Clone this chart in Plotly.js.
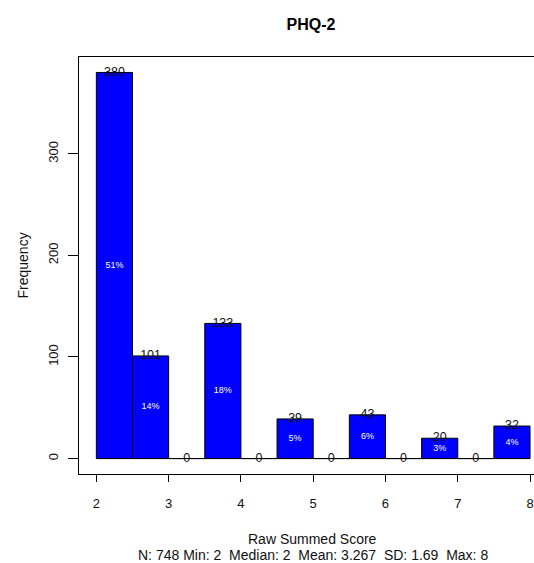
<!DOCTYPE html>
<html>
<head>
<meta charset="utf-8">
<script src="https://cdn.plot.ly/plotly-3.0.1.min.js"></script>
<style>html,body{margin:0;padding:0;background:#fff;}#chart{width:534px;height:563px;}</style>
</head>
<body>
<div id="chart"></div>
<script>
// Histogram bins (breaks) and counts
var breaks = [2, 2.5, 3, 3.5, 4, 4.5, 5, 5.5, 6, 6.5, 7, 7.5, 8];
var counts = [380, 101, 0, 133, 0, 39, 0, 43, 0, 20, 0, 32];
var percentLabels = ['51%', '14%', '', '18%', '', '5%', '', '6%', '', '3%', '', '4%'];
var xTicks = [2, 3, 4, 5, 6, 7, 8];
var yTicks = [0, 100, 200, 300];
var titleText = 'PHQ-2';
var xTitle = 'Raw Summed Score';
var subTitle = 'N: 748 Min: 2 \u00A0Median: 2 \u00A0Mean: 3.267 \u00A0SD: 1.69 \u00A0Max: 8';
var yTitle = 'Frequency';

var FONT = 'Liberation Sans, Arial, sans-serif';
var mids = [], widths = [], halfCounts = [];
for (var i = 0; i < counts.length; i++) {
  mids.push((breaks[i] + breaks[i + 1]) / 2);
  widths.push(breaks[i + 1] - breaks[i]);
  halfCounts.push(counts[i] / 2);
}

var traces = [
  {
    type: 'scatter', mode: 'lines',
    x: [breaks[0], breaks[breaks.length - 1]], y: [0, 0],
    line: {color: '#000', width: 1}, hoverinfo: 'skip', showlegend: false
  },
  {
    type: 'bar', x: mids, y: counts, width: widths,
    marker: {color: '#0000FF', line: {color: '#000', width: 1}},
    showlegend: false
  },
  {
    type: 'scatter', mode: 'text', x: mids, y: counts,
    text: counts.map(String), textposition: 'middle center',
    textfont: {family: FONT, size: 12.5, color: '#111'},
    showlegend: false, hoverinfo: 'skip', cliponaxis: false
  },
  {
    type: 'scatter', mode: 'text', x: mids, y: halfCounts,
    text: percentLabels, textposition: 'middle center',
    textfont: {family: FONT, size: 9, color: '#fff'},
    showlegend: false, hoverinfo: 'skip'
  }
];

var layout = {
  width: 534, height: 563,
  margin: {l: 79, r: 0, t: 57, b: 89, pad: 0},
  paper_bgcolor: '#fff', plot_bgcolor: '#fff',
  font: {family: FONT, size: 13, color: '#111'},
  bargap: 0,
  title: {
    text: '<b>' + titleText + '</b>',
    font: {family: FONT, size: 16, color: '#000'},
    xref: 'paper', x: 0.51, xanchor: 'center',
    yref: 'container', y: 1 - 24 / 563, yanchor: 'middle'
  },
  xaxis: {
    range: [1.76, 8.055], tickvals: xTicks, ticktext: xTicks.map(String),
    ticks: 'outside', ticklen: 7, tickcolor: '#000', tickwidth: 1,
    showline: true, mirror: true, linecolor: '#000', linewidth: 1,
    showgrid: false, zeroline: false, fixedrange: true,
    ticklabelstandoff: 10,
    tickfont: {family: FONT, size: 13, color: '#111'}
  },
  yaxis: {
    range: [-15.2, 395.2], tickvals: yTicks, ticktext: yTicks.map(String),
    ticks: 'outside', ticklen: 10, tickcolor: '#000', tickwidth: 1,
    tickangle: -90,
    showline: true, mirror: false, linecolor: '#000', linewidth: 1,
    showgrid: false, zeroline: false, fixedrange: true,
    ticklabelstandoff: 5,
    tickfont: {family: FONT, size: 13, color: '#111'}
  },
  annotations: [
    {
      text: xTitle, xref: 'paper', yref: 'paper', x: 0.514, y: 0,
      xanchor: 'center', yanchor: 'middle', yshift: -65, showarrow: false,
      font: {family: FONT, size: 14, color: '#111'}
    },
    {
      text: subTitle, xref: 'paper', yref: 'paper', x: 0.514, y: 0,
      xanchor: 'center', yanchor: 'middle', yshift: -81, showarrow: false,
      font: {family: FONT, size: 14, color: '#111'}
    },
    {
      text: yTitle, xref: 'paper', yref: 'paper', x: 0, y: 0.5,
      xanchor: 'center', yanchor: 'middle', xshift: -57, textangle: -90,
      showarrow: false, font: {family: FONT, size: 14, color: '#111'}
    }
  ]
};

Plotly.newPlot('chart', traces, layout, {displayModeBar: false, staticPlot: true});
</script>
</body>
</html>
